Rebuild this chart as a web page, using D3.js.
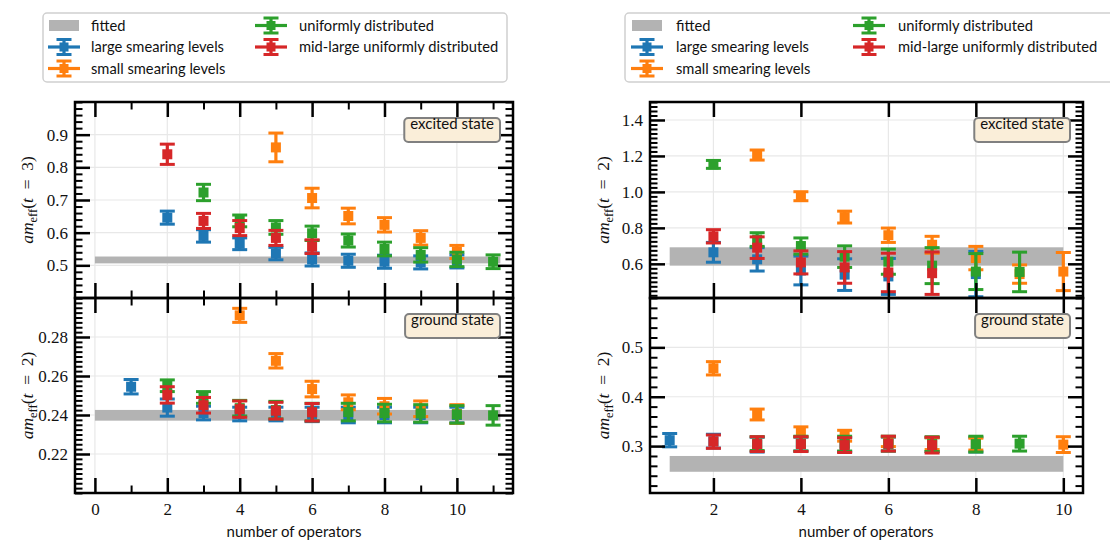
<!DOCTYPE html>
<html><head><meta charset="utf-8">
<style>
  body { margin: 0; background: #fff; }
  .tick text { font-family: 'Liberation Serif', 'DejaVu Serif', serif; font-size: 17px; fill: #111; }
  .sans { font-family: Lato, 'Open Sans', 'DejaVu Sans', sans-serif; }
</style>
</head>
<body>
<svg id="chart" width="1110" height="540"></svg>
<script src="https://cdnjs.cloudflare.com/ajax/libs/d3/7.8.5/d3.min.js"></script>
<script>
// each point: [number of operators, value, error]
const leftExcitedLarge = [[2,0.646,0.020],[3,0.590,0.019],[4,0.566,0.018],[5,0.536,0.019],[6,0.518,0.020],[7,0.514,0.020],[8,0.511,0.020],[9,0.509,0.020],[10,0.512,0.020]];
const leftExcitedSmall = [[5,0.861,0.044],[6,0.706,0.030],[7,0.651,0.024],[8,0.624,0.022],[9,0.584,0.022],[10,0.541,0.020]];
const leftExcitedUniform = [[3,0.723,0.025],[4,0.636,0.018],[5,0.616,0.021],[6,0.598,0.022],[7,0.576,0.020],[8,0.550,0.021],[9,0.532,0.022],[10,0.518,0.022],[11,0.511,0.021]];
const leftExcitedMid = [[2,0.840,0.031],[3,0.636,0.023],[4,0.614,0.023],[5,0.584,0.023],[6,0.557,0.021]];

const leftGroundLarge = [[1,0.2545,0.0037],[2,0.2438,0.0044],[3,0.2410,0.0035],[4,0.2405,0.0035],[5,0.2405,0.0035],[6,0.2403,0.0037],[7,0.2400,0.0040],[8,0.2400,0.0040],[9,0.2400,0.0040],[10,0.2400,0.0040]];
const leftGroundSmall = [[4,0.2911,0.0036],[5,0.2678,0.0037],[6,0.2533,0.0040],[7,0.2465,0.0038],[8,0.2445,0.0040],[9,0.2432,0.0040],[10,0.2405,0.0048]];
const leftGroundUniform = [[2,0.2550,0.0030],[3,0.2490,0.0030],[4,0.2435,0.0040],[5,0.2425,0.0045],[6,0.2415,0.0045],[7,0.2415,0.0045],[8,0.2410,0.0045],[9,0.2408,0.0045],[10,0.2403,0.0045],[11,0.2398,0.0050]];
const leftGroundMid = [[2,0.2503,0.0042],[3,0.2450,0.0040],[4,0.2430,0.0042],[5,0.2422,0.0043],[6,0.2414,0.0045]];

const rightExcitedLarge = [[2,0.664,0.055],[3,0.625,0.065],[4,0.563,0.080],[5,0.540,0.088],[6,0.530,0.100],[8,0.543,0.126]];
const rightExcitedSmall = [[3,1.205,0.028],[4,0.976,0.025],[5,0.860,0.033],[6,0.759,0.040],[7,0.706,0.047],[8,0.632,0.065],[9,0.543,0.051],[10,0.557,0.106]];
const rightExcitedUniform = [[2,1.153,0.022],[3,0.735,0.038],[4,0.699,0.045],[5,0.640,0.060],[6,0.612,0.070],[7,0.590,0.100],[8,0.557,0.100],[9,0.555,0.110]];
const rightExcitedMid = [[2,0.753,0.037],[3,0.690,0.060],[4,0.608,0.064],[5,0.580,0.088],[6,0.552,0.107],[7,0.548,0.118]];

const rightGroundLarge = [[1,0.312,0.0135],[2,0.310,0.014],[3,0.303,0.015],[4,0.304,0.014],[5,0.303,0.014],[6,0.304,0.014],[7,0.303,0.014],[8,0.303,0.015]];
const rightGroundSmall = [[2,0.4576,0.0135],[3,0.364,0.011],[4,0.329,0.010],[5,0.321,0.011],[6,0.309,0.010],[7,0.305,0.012],[8,0.304,0.012],[10,0.303,0.016]];
const rightGroundUniform = [[3,0.305,0.014],[4,0.305,0.015],[5,0.305,0.015],[6,0.305,0.015],[7,0.304,0.015],[8,0.304,0.016],[9,0.305,0.015]];
const rightGroundMid = [[2,0.309,0.0135],[3,0.304,0.015],[4,0.304,0.015],[5,0.302,0.015],[6,0.305,0.015],[7,0.302,0.016]];

// fitted bands: [low, high] and their x extent
const fitLeftExcited = [0.506, 0.527];
const fitLeftGround = [0.2371, 0.2426];
const fitRightExcited = [0.590, 0.692];
const fitRightGround = [0.248, 0.280];
const fitSpanLeft = [0, 11.2];
const fitSpanRight = [1, 10];

const seriesNames = ['large smearing levels', 'small smearing levels', 'uniformly distributed', 'mid-large uniformly distributed'];
const seriesColors = ['#1f77b4', '#ff7f0e', '#2ca02c', '#d62728'];

const xTicksLeft = [0, 2, 4, 6, 8, 10];
const xMinorLeft = [1, 3, 5, 7, 9, 11];
const xTicksRight = [2, 4, 6, 8, 10];
const yTicksLeftExcited = [0.5, 0.6, 0.7, 0.8, 0.9];
const yTicksLeftGround = [0.22, 0.24, 0.26, 0.28];
const yTicksRightExcited = [0.6, 0.8, 1.0, 1.2, 1.4];
const yTicksRightGround = [0.3, 0.4, 0.5];

const svg = d3.select('#chart');

function minorValues(domain, step, majors) {
  const k0 = Math.ceil(domain[0] / step - 1e-6), k1 = Math.floor(domain[1] / step + 1e-6);
  return d3.range(k0, k1 + 1).map(k => k * step)
    .filter(v => !majors.some(m => Math.abs(m - v) < step * 0.1));
}

function drawPanel(p) {
  const g = svg.append('g');
  const x = d3.scaleLinear().domain(p.xDomain).range([p.left, p.right]);
  const y = d3.scaleLinear().domain(p.yDomain).range([p.bottom, p.top]);
  const clipId = 'clip-' + p.id;
  svg.append('clipPath').attr('id', clipId).append('rect')
    .attr('x', p.left).attr('y', p.top).attr('width', p.right - p.left).attr('height', p.bottom - p.top);

  // grid
  const grid = g.append('g').attr('stroke', '#e8e8e8').attr('stroke-width', 1.2);
  grid.selectAll('line.gx').data(p.xTicks).join('line').attr('class', 'gx')
    .attr('x1', d => x(d)).attr('x2', d => x(d)).attr('y1', p.top).attr('y2', p.bottom);
  grid.selectAll('line.gy').data(p.yTicks).join('line').attr('class', 'gy')
    .attr('y1', d => y(d)).attr('y2', d => y(d)).attr('x1', p.left).attr('x2', p.right);

  // fitted band
  g.append('rect').attr('clip-path', `url(#${clipId})`)
    .attr('x', x(p.fitSpan[0])).attr('width', x(p.fitSpan[1]) - x(p.fitSpan[0]))
    .attr('y', y(p.fit[1])).attr('height', y(p.fit[0]) - y(p.fit[1]))
    .attr('fill', '#b3b3b3');

  // error bars
  const plot = g.append('g').attr('clip-path', `url(#${clipId})`);
  p.series.forEach((s, i) => {
    const c = seriesColors[i];
    const sg = plot.append('g');
    sg.selectAll('line.bar').data(s).join('line').attr('class', 'bar')
      .attr('x1', d => x(d[0])).attr('x2', d => x(d[0]))
      .attr('y1', d => y(d[1] - d[2])).attr('y2', d => y(d[1] + d[2]))
      .attr('stroke', c).attr('stroke-width', 3.2);
    [-1, 1].forEach(sgn => {
      sg.selectAll('line.cap' + (sgn + 1)).data(s).join('line').attr('class', 'cap' + (sgn + 1))
        .attr('x1', d => x(d[0]) - 7.5).attr('x2', d => x(d[0]) + 7.5)
        .attr('y1', d => y(d[1] + sgn * d[2])).attr('y2', d => y(d[1] + sgn * d[2]))
        .attr('stroke', c).attr('stroke-width', 3);
    });
    sg.selectAll('rect').data(s).join('rect')
      .attr('x', d => x(d[0]) - 5).attr('y', d => y(d[1]) - 5)
      .attr('width', 10).attr('height', 10).attr('fill', c);
  });

  // axes (ticks pointing inwards on all four sides)
  const styleAxis = (a, w) => {
    a.select('.domain').remove();
    a.selectAll('.tick line').attr('stroke-width', w);
  };
  const yMinorVals = minorValues(p.yDomain, p.yMinor, p.yTicks);
  g.append('g').attr('transform', `translate(${p.left},0)`)
    .call(d3.axisLeft(y).tickValues(p.yTicks).tickSize(-15).tickPadding(7).tickFormat(p.yFmt))
    .call(a => styleAxis(a, 2.5)).attr('font-size', null).attr('font-family', null);
  g.append('g').attr('transform', `translate(${p.left},0)`)
    .call(d3.axisLeft(y).tickValues(yMinorVals).tickSize(-7.5).tickFormat(''))
    .call(a => styleAxis(a, 2));
  g.append('g').attr('transform', `translate(${p.right},0)`)
    .call(d3.axisRight(y).tickValues(p.yTicks).tickSize(-15).tickFormat(''))
    .call(a => styleAxis(a, 2.5));
  g.append('g').attr('transform', `translate(${p.right},0)`)
    .call(d3.axisRight(y).tickValues(yMinorVals).tickSize(-7.5).tickFormat(''))
    .call(a => styleAxis(a, 2));
  g.append('g').attr('transform', `translate(0,${p.top})`)
    .call(d3.axisTop(x).tickValues(p.xTicks).tickSize(-15).tickFormat(''))
    .call(a => styleAxis(a, 2.5));
  g.append('g').attr('transform', `translate(0,${p.bottom})`)
    .call(d3.axisBottom(x).tickValues(p.xTicks).tickSize(-15).tickPadding(10)
      .tickFormat(p.showX ? d3.format('d') : ''))
    .call(a => styleAxis(a, 2.5)).attr('font-size', null).attr('font-family', null);
  if (p.xMinor.length) {
    g.append('g').attr('transform', `translate(0,${p.top})`)
      .call(d3.axisTop(x).tickValues(p.xMinor).tickSize(-7.5).tickFormat(''))
      .call(a => styleAxis(a, 2));
    g.append('g').attr('transform', `translate(0,${p.bottom})`)
      .call(d3.axisBottom(x).tickValues(p.xMinor).tickSize(-7.5).tickFormat(''))
      .call(a => styleAxis(a, 2));
  }

  // frame
  g.append('rect').attr('x', p.left).attr('y', p.top)
    .attr('width', p.right - p.left).attr('height', p.bottom - p.top)
    .attr('fill', 'none').attr('stroke', '#000').attr('stroke-width', 2.5);

  // y label
  const yl = g.append('text')
    .attr('transform', `translate(${p.ylabelX},${(p.top + p.bottom) / 2}) rotate(-90)`)
    .attr('text-anchor', 'middle').attr('fill', '#111')
    .style('font-family', "'Liberation Serif', 'DejaVu Serif', serif").style('font-size', '17.5px');
  yl.append('tspan').attr('font-style', 'italic').text('am');
  yl.append('tspan').attr('font-size', '12.5px').attr('dy', 3.5).text('eff');
  yl.append('tspan').attr('dy', -3.5).text('(');
  yl.append('tspan').attr('font-style', 'italic').text('t');
  yl.append('tspan').text('\u2002=\u2002' + p.t + ')');

  // state label box
  const lg = g.append('g');
  const lt = lg.append('text').attr('class', 'sans').attr('text-anchor', 'end')
    .attr('x', p.right - 19).attr('y', p.top + 27).style('font-size', '15px').attr('fill', '#111')
    .text(p.label);
  const w = lt.node().getComputedTextLength();
  lg.insert('rect', 'text').attr('x', p.right - 19 - w - 6).attr('y', p.top + 16)
    .attr('width', w + 12).attr('height', 24).attr('rx', 4)
    .attr('fill', '#faeed9').attr('stroke', '#808080').attr('stroke-width', 2);
}

const panelDefs = [
  { id: 'lt', left: 75, right: 513, top: 102, bottom: 298, xDomain: [-0.55, 11.55], yDomain: [0.40, 1.00],
    xTicks: xTicksLeft, xMinor: xMinorLeft, yTicks: yTicksLeftExcited, yMinor: 0.02, yFmt: d3.format('.1f'),
    fit: fitLeftExcited, fitSpan: fitSpanLeft, series: [leftExcitedLarge, leftExcitedSmall, leftExcitedUniform, leftExcitedMid],
    label: 'excited state', t: 3, ylabelX: 33, showX: false },
  { id: 'lb', left: 75, right: 513, top: 298, bottom: 493, xDomain: [-0.55, 11.55], yDomain: [0.20, 0.30],
    xTicks: xTicksLeft, xMinor: xMinorLeft, yTicks: yTicksLeftGround, yMinor: 0.0025, yFmt: d3.format('.2f'),
    fit: fitLeftGround, fitSpan: fitSpanLeft, series: [leftGroundLarge, leftGroundSmall, leftGroundUniform, leftGroundMid],
    label: 'ground state', t: 2, ylabelX: 33, showX: true },
  { id: 'rt', left: 650, right: 1083, top: 102, bottom: 298, xDomain: [0.55, 10.45], yDomain: [0.41, 1.50],
    xTicks: xTicksRight, xMinor: [], yTicks: yTicksRightExcited, yMinor: 0.025, yFmt: d3.format('.1f'),
    fit: fitRightExcited, fitSpan: fitSpanRight, series: [rightExcitedLarge, rightExcitedSmall, rightExcitedUniform, rightExcitedMid],
    label: 'excited state', t: 2, ylabelX: 609, showX: false },
  { id: 'rb', left: 650, right: 1083, top: 298, bottom: 493, xDomain: [0.55, 10.45], yDomain: [0.205, 0.60],
    xTicks: xTicksRight, xMinor: [], yTicks: yTicksRightGround, yMinor: 0.02, yFmt: d3.format('.1f'),
    fit: fitRightGround, fitSpan: fitSpanRight, series: [rightGroundLarge, rightGroundSmall, rightGroundUniform, rightGroundMid],
    label: 'ground state', t: 2, ylabelX: 609, showX: true }
];
panelDefs.forEach(drawPanel);

// x labels
[[294, 'number of operators'], [866, 'number of operators']].forEach(([cx, t]) => {
  svg.append('text').attr('class', 'sans').attr('x', cx).attr('y', 537)
    .attr('text-anchor', 'middle').style('font-size', '15px').attr('fill', '#111').text(t);
});

// legends
function drawLegend(bx, bw, cols) {
  const g = svg.append('g');
  g.append('rect').attr('x', bx).attr('y', 13).attr('width', bw).attr('height', 69).attr('rx', 4)
    .attr('fill', '#fff').attr('stroke', '#d0d0d0').attr('stroke-width', 1.5);
  const entries = [{ name: 'fitted', fit: true }].concat(seriesNames.map((n, i) => ({ name: n, color: seriesColors[i] })));
  const slots = [[0, 0], [0, 1], [0, 2], [1, 0], [1, 1]];
  const rowY = [25.5, 47, 68.5];
  entries.forEach((e, i) => {
    const col = cols[slots[i][0]], cy = rowY[slots[i][1]];
    const hx = col.hx, cx = hx + 16;
    if (e.fit) {
      g.append('rect').attr('x', hx + 1).attr('y', cy - 5.5).attr('width', 30).attr('height', 11).attr('fill', '#b3b3b3');
    } else {
      g.append('line').attr('x1', hx).attr('x2', hx + 32).attr('y1', cy).attr('y2', cy).attr('stroke', e.color).attr('stroke-width', 3.2);
      g.append('line').attr('x1', cx).attr('x2', cx).attr('y1', cy - 7.5).attr('y2', cy + 7.5).attr('stroke', e.color).attr('stroke-width', 3.2);
      [-7.5, 7.5].forEach(o => g.append('line').attr('x1', cx - 7.5).attr('x2', cx + 7.5)
        .attr('y1', cy + o).attr('y2', cy + o).attr('stroke', e.color).attr('stroke-width', 3));
      g.append('rect').attr('x', cx - 4.5).attr('y', cy - 4.5).attr('width', 9).attr('height', 9).attr('fill', e.color);
    }
    g.append('text').attr('class', 'sans').attr('x', col.tx).attr('y', cy).attr('dy', '0.35em')
      .style('font-size', '14.7px').attr('fill', '#111').text(e.name);
  });
}
drawLegend(43, 464, [{ hx: 48, tx: 91 }, { hx: 255, tx: 299 }]);
drawLegend(625, 500, [{ hx: 631, tx: 676 }, { hx: 853, tx: 898 }]);
</script>
</body></html>
